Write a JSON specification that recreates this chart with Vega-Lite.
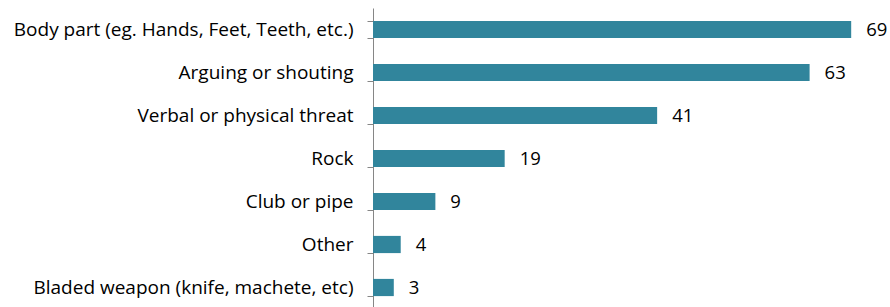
{
  "$schema": "https://vega.github.io/schema/vega-lite/v6.json",
  "width": 517,
  "height": 301,
  "autosize": {"type": "none"},
  "padding": {"left": 373, "top": 8, "right": 0, "bottom": 0},
  "background": "white",
  "config": {"view": {"stroke": null}, "font": "Open Sans"},
  "data": {
    "values": [
      {"category": "Body part (eg. Hands, Feet, Teeth, etc.)", "count": 69},
      {"category": "Arguing or shouting", "count": 63},
      {"category": "Verbal or physical threat", "count": 41},
      {"category": "Rock", "count": 19},
      {"category": "Club or pipe", "count": 9},
      {"category": "Other", "count": 4},
      {"category": "Bladed weapon (knife, machete, etc)", "count": 3}
    ]
  },
  "encoding": {
    "y": {
      "field": "category",
      "type": "nominal",
      "sort": null,
      "scale": {"paddingInner": 0.6, "paddingOuter": 0.3},
      "axis": {
        "title": null,
        "tickBand": "extent",
        "domainColor": "#868686",
        "tickColor": "#868686",
        "tickSize": 6,
        "labelFontSize": 19,
        "labelColor": "#000000",
        "labelPadding": 14,
        "labelLimit": 400,
        "labelFont": "Open Sans"
      }
    },
    "x": {
      "field": "count",
      "type": "quantitative",
      "scale": {"domain": [0, 74.6], "nice": false},
      "axis": null
    }
  },
  "layer": [
    {"mark": {"type": "bar", "color": "#31859C"}},
    {
      "mark": {"type": "text", "align": "left", "dx": 15, "fontSize": 18.5, "color": "#000000", "font": "Open Sans"},
      "encoding": {"text": {"field": "count", "type": "quantitative"}}
    }
  ]
}
